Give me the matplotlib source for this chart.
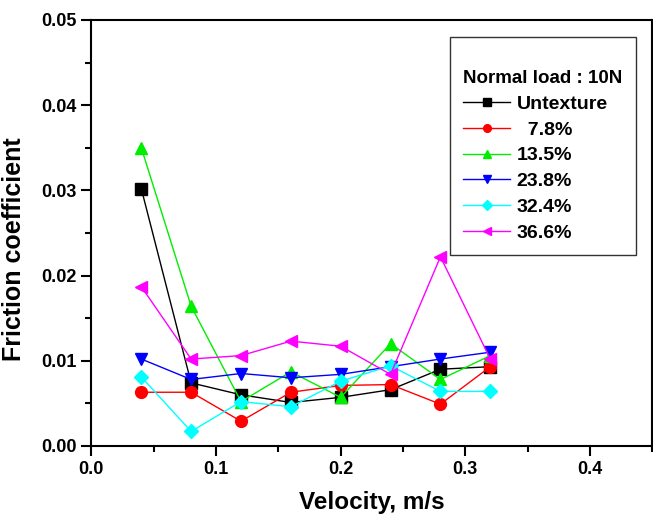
import matplotlib
matplotlib.use("Agg")
from matplotlib import pyplot as plt

plt.rcParams['font.family'] = ['Liberation Sans', 'DejaVu Sans']
plt.rcParams['font.weight'] = 'bold'

velocity = [0.04, 0.08, 0.12, 0.16, 0.20, 0.24, 0.28, 0.32]
untexture = [0.0302, 0.0074, 0.0060, 0.0051, 0.0057, 0.0066, 0.0090, 0.0093]
p7_8 = [0.0063, 0.0063, 0.0029, 0.0063, 0.0071, 0.0072, 0.0049, 0.0093]
p13_5 = [0.0350, 0.0164, 0.0052, 0.0087, 0.0057, 0.0120, 0.0078, 0.0106]
p23_8 = [0.0102, 0.0078, 0.0085, 0.0080, 0.0084, 0.0093, 0.0102, 0.0110]
p32_4 = [0.0081, 0.0017, 0.0052, 0.0046, 0.0076, 0.0094, 0.0064, 0.0064]
p36_6 = [0.0187, 0.0102, 0.0106, 0.0123, 0.0117, 0.0084, 0.0222, 0.0102]

series = [
    (untexture, "Untexture", "black", "s"),
    (p7_8, "  7.8%", "red", "o"),
    (p13_5, "13.5%", "#00ee00", "^"),
    (p23_8, "23.8%", "blue", "v"),
    (p32_4, "32.4%", "cyan", "D"),
    (p36_6, "36.6%", "magenta", "<"),
]

fig = plt.figure(figsize=(6.53, 5.24), dpi=100)
ax = fig.add_axes([0.140, 0.149, 0.859, 0.813])

for vals, lab, col, mk in series:
    ms = 7.5 if mk == "D" else 8.5
    ax.plot(velocity, vals, color=col, marker=mk, markersize=ms, linewidth=1,
            markeredgecolor=col, label=lab)

ax.set_xlim(0, 0.45)
ax.set_ylim(0, 0.05)
ax.set_xticks([0.0, 0.1, 0.2, 0.3, 0.4])
ax.set_xticklabels(["0.0", "0.1", "0.2", "0.3", "0.4"])
ax.set_yticks([0.0, 0.01, 0.02, 0.03, 0.04, 0.05])
ax.set_yticklabels(["0.00", "0.01", "0.02", "0.03", "0.04", "0.05"])
ax.set_xticks([0.05, 0.15, 0.25, 0.35, 0.45], minor=True)
ax.set_yticks([0.005, 0.015, 0.025, 0.035, 0.045], minor=True)
ax.tick_params(which='major', direction='out', length=7, width=1.5, labelsize=13)
ax.tick_params(which='minor', direction='out', length=4, width=1.5)
for s in ax.spines.values():
    s.set_linewidth(1.5)

ax.set_xlabel("Velocity, m/s", fontsize=17.5, fontweight='bold')
ax.set_ylabel("Friction coefficient", fontsize=18, fontweight='bold')
ax.xaxis.set_label_coords(0.5, -0.105)
ax.yaxis.set_label_coords(-0.116, 0.462)

leg = ax.legend(title="\nNormal load : 10N", loc='upper right',
                bbox_to_anchor=(0.971, 0.960), borderaxespad=0,
                fontsize=14, title_fontsize=13.5, frameon=True, fancybox=False,
                edgecolor='black', handlelength=2.4, markerscale=0.65,
                labelspacing=0.42, handletextpad=0.35, borderpad=0.7,
                alignment='left')
leg.get_title().set_fontweight('bold')
leg.get_frame().set_linewidth(1.0)

fig.savefig("out.png", dpi=100)
